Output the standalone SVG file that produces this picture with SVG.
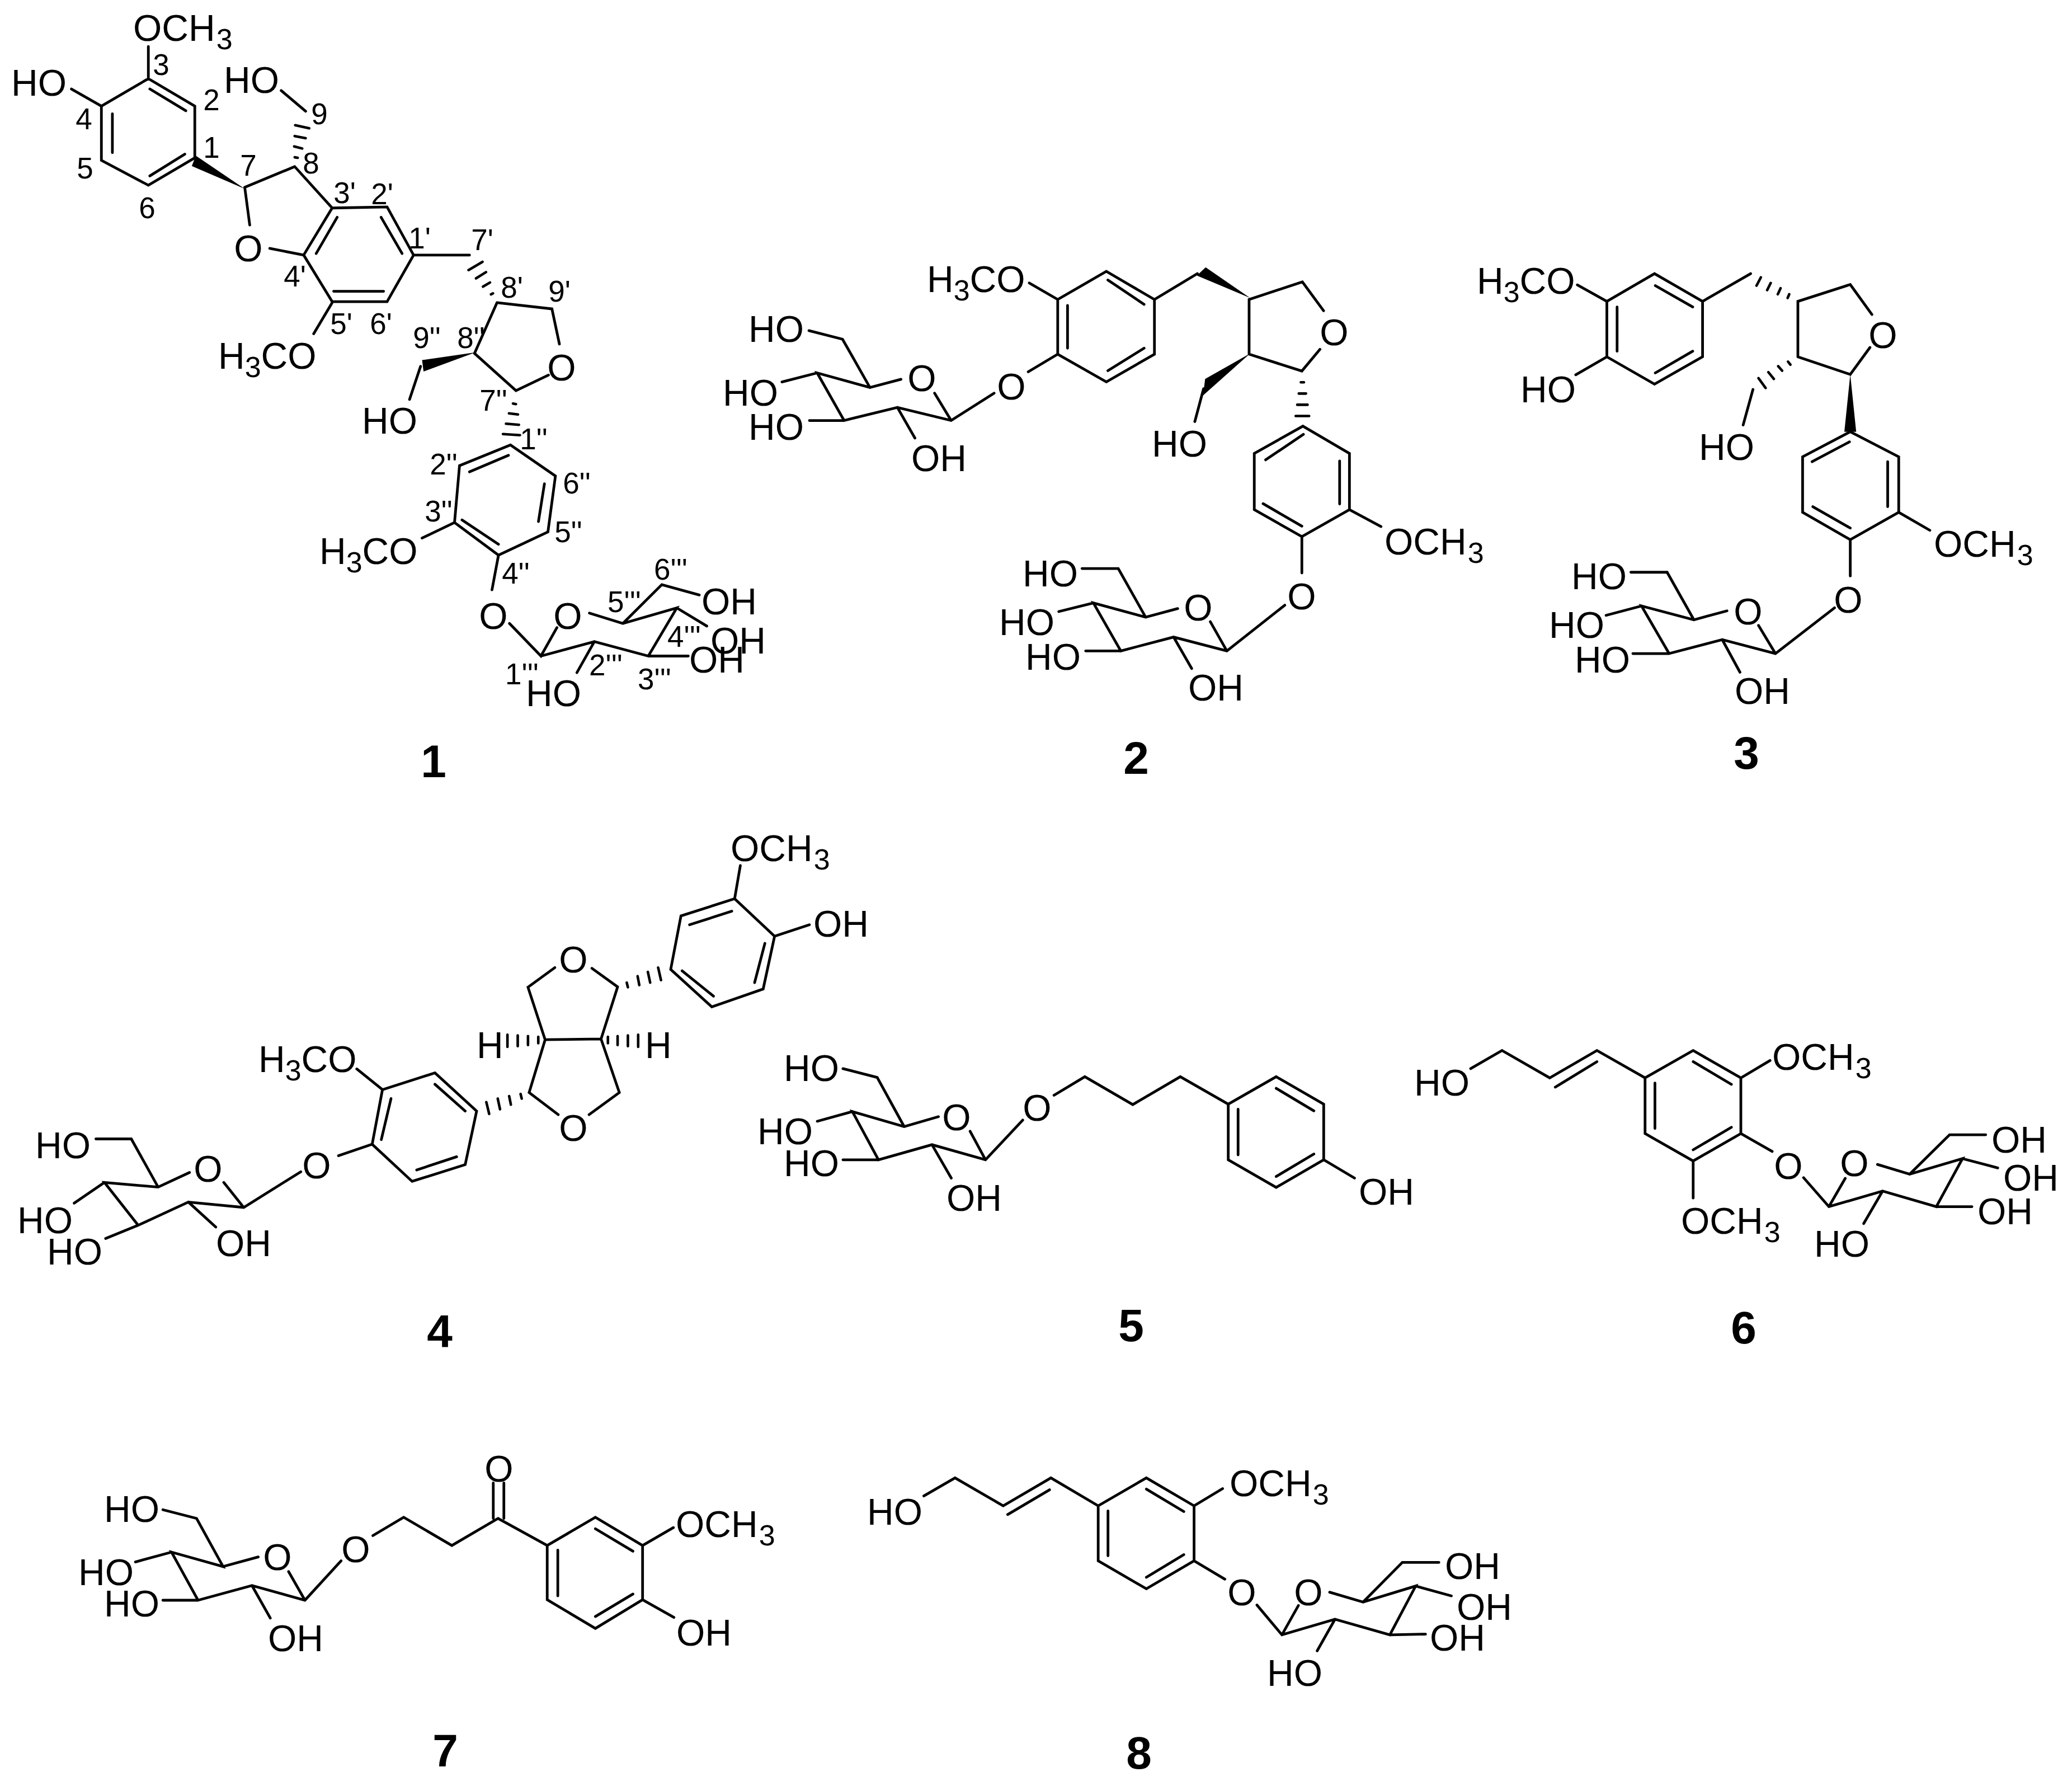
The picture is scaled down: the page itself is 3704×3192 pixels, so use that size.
<svg xmlns="http://www.w3.org/2000/svg" width="3704" height="3192" viewBox="0 0 3704 3192">
<style>
text{font-family:"Liberation Sans",Arial,sans-serif;fill:#000}
.a{font-size:66px}
.n{font-size:53px;text-anchor:middle}
.c{font-size:66px;text-anchor:middle}
.t{font-size:82px;font-weight:bold;text-anchor:middle}
.s{font-size:52px}
.b{fill:none;stroke:#000;stroke-width:4.8;stroke-linecap:round;stroke-linejoin:miter;vector-effect:non-scaling-stroke}
.h{fill:none;stroke:#000;stroke-width:4.6;stroke-linecap:round;vector-effect:non-scaling-stroke}
.w{fill:#000;stroke:none}
</style>
<rect width="3704" height="3192" fill="#fff"/>
<g id="compound-1">
<g id="connectors-1" transform="scale(.8929,.9247)">
<path class="b" d="M297 152L390 205L390 305L297 358L203 310L203 205Z M300 172L372 214 M370 298L300 340 M225 220L225 295 M297 152L297 90 M203 205L143 172 M490 362L590 322 M490 362L500 435 M540 480L608 493 M590 322L665 402 M612 215L563 175 M665 402L775 400L828 493L775 583L665 583L608 493Z M675 420L633 490 M763 420L805 490 M668 563L768 563 M665 585L628 645 M828 493L940 493 M995 585L1105 597L1120 665 M1098 725L1033 755L950 683L995 585 M842 708L820 772 M1022 860L1112 920L1097 1028L998 1073L910 1010L920 900Z M1018 880L940 912 M1090 935L1078 1008 M925 1005L998 1052 M910 1010L845 1040 M998 1073L985 1140 M1020 1205L1083 1268L1115 1213 M1083 1268L1190 1240L1298 1268L1355 1175L1247 1205L1180 1185 M1247 1205L1325 1130L1400 1150 M1355 1175L1415 1210 M1298 1268L1378 1268 M1190 1240L1155 1300"/>
<path class="h" d="M590 304L596 305 M589 283L605 287 M590 263L612 267 M591 242L619 248 M983 569L987 567 M967 554L981 546 M953 538L973 526 M938 522L966 506 M1027 780L1033 781 M1019 799L1037 801 M1013 819L1039 821 M1007 839L1041 841"/>
<polygon class="w" points="392,301 384,321 490,365"/>
<polygon class="w" points="952,681 845,696 848,718"/>
</g>
<text class="a" x="238" y="73">OCH<tspan class="s" dx="2" dy="15">3</tspan></text>
<text class="a" x="20" y="171">HO</text>
<text class="a" x="400" y="166">HO</text>
<text class="c" x="444" y="467">O</text>
<text class="a" x="390" y="659">H<tspan class="s" dy="15">3</tspan><tspan dy="-15">CO</tspan></text>
<text class="c" x="1004" y="680">O</text>
<text class="a" x="647" y="775">HO</text>
<text class="a" x="571" y="1008">H<tspan class="s" dy="15">3</tspan><tspan dy="-15">CO</tspan></text>
<text class="c" x="882" y="1124">O</text>
<text class="c" x="1015" y="1124">O</text>
<text class="a" x="1254" y="1098">OH</text>
<text class="a" x="1270" y="1168">OH</text>
<text class="a" x="1232" y="1202">OH</text>
<text class="a" x="940" y="1262">HO</text>
<text class="n" x="288" y="134">3</text><text class="n" x="378" y="197">2</text><text class="n" x="378" y="282">1</text><text class="n" x="150" y="231">4</text><text class="n" x="152" y="319">5</text><text class="n" x="263" y="390">6</text><text class="n" x="444" y="314">7</text><text class="n" x="556" y="310">8</text><text class="n" x="571" y="222">9</text>
<text class="n" x="616" y="363">3'</text><text class="n" x="683" y="365">2'</text><text class="n" x="750" y="444">1'</text><text class="n" x="862" y="447">7'</text><text class="n" x="527" y="512">4'</text><text class="n" x="610" y="597">5'</text><text class="n" x="681" y="597">6'</text><text class="n" x="915" y="532">8'</text><text class="n" x="1000" y="539">9'</text>
<text class="n" x="842" y="622">8''</text><text class="n" x="763" y="622">9''</text><text class="n" x="882" y="734">7''</text><text class="n" x="954" y="803">1''</text><text class="n" x="793" y="848">2''</text><text class="n" x="1031" y="882">6''</text><text class="n" x="784" y="932">3''</text><text class="n" x="1016" y="969">5''</text><text class="n" x="922" y="1043">4''</text>
<text class="n" x="1116" y="1094">5'''</text><text class="n" x="1199" y="1036">6'''</text><text class="n" x="1223" y="1156">4'''</text><text class="n" x="933" y="1223">1'''</text><text class="n" x="1083" y="1207">2'''</text><text class="n" x="1170" y="1232">3'''</text>
<text class="t" x="775" y="1389">1</text>
</g>
<g id="compound-2">
<g id="connectors-2" transform="translate(1250,400) scale(.9247,.6696)">
<path class="b" d="M693 202L787 127L880 202L880 348L787 422L693 348Z M712 218L712 332 M790 150L860 215 M860 332L790 392 M693 202L638 158 M693 348L636 395 M570 452L487 525L383 490L280 525L228 398L330 437L390 415 M455 452L487 525 M330 437L277 308L212 285 M228 398L160 422 M280 525L213 525 M383 490L417 572 M880 202L963 133 M1063 348L1063 202L1166 155L1207 232 M1200 335L1165 393L1063 348 M975 440L958 528 M1167 540L1257 613L1257 763L1165 835L1073 763L1073 613Z M1168 562L1095 630 M1238 633L1238 748 M1090 747L1165 807 M1257 763L1318 808 M1165 835L1165 932 M1132 1018L1020 1140L917 1103L815 1140L762 1012L863 1050L925 1027 M988 1062L1020 1140 M863 1050L810 920L740 920 M762 1012L695 1035 M815 1140L747 1140 M917 1103L952 1187"/>
<path class="h" d="M1163 423L1169 423 M1159 453L1173 453 M1156 483L1176 483 M1153 513L1179 513"/>
<polygon class="w" points="1065,198 979,116 962,138"/>
<polygon class="w" points="1065,346 978,414 974,458"/>
</g>
<text class="a" x="1657" y="522">H<tspan class="s" dy="15">3</tspan><tspan dy="-15">CO</tspan></text>
<text class="c" x="1808" y="714">O</text>
<text class="c" x="1648" y="699">O</text>
<text class="a" x="1338" y="611">HO</text><text class="a" x="1292" y="725">HO</text><text class="a" x="1338" y="786">HO</text><text class="a" x="1629" y="842">OH</text>
<text class="c" x="2385" y="617">O</text>
<text class="a" x="2059" y="816">HO</text>
<text class="a" x="2475" y="991">OCH<tspan class="s" dx="2" dy="15">3</tspan></text>
<text class="c" x="2327" y="1089">O</text>
<text class="c" x="2142" y="1109">O</text>
<text class="a" x="1828" y="1048">HO</text><text class="a" x="1786" y="1135">HO</text><text class="a" x="1833" y="1197">HO</text><text class="a" x="2124" y="1252">OH</text>
<text class="t" x="2031" y="1383">2</text>
</g>
<g id="compound-3">
<g id="connectors-3" transform="translate(2600,400) scale(.7041,.6696)">
<path class="b" d="M387 207L508 133L630 207L630 355L508 428L387 355Z M413 222L413 340 M510 165L605 222 M605 340L510 398 M387 207L312 163 M387 355L308 403 M630 207L752 133 M872 355L872 207L1005 162L1060 242 M1055 330L1005 402L872 355 M758 442L733 537 M1005 555L1128 622L1128 770L1005 843L884 770L884 622Z M1003 582L908 635 M1100 635L1100 755 M910 755L1005 812 M1128 770L1207 818 M1005 843L1005 940 M965 1025L815 1147L680 1110L545 1147L475 1020L608 1057L692 1033 M772 1072L815 1147 M608 1057L540 930L448 930 M475 1020L385 1045 M545 1147L453 1147 M680 1110L725 1197"/>
<path class="h" d="M850 188L846 198 M828 172L821 188 M803 158L794 177 M778 143L767 165 M847 368L853 376 M822 380L832 392 M797 396L811 414 M772 412L790 438"/>
<polygon class="w" points="1005,402 990,555 1020,555"/>
</g>
<text class="a" x="2640" y="525">H<tspan class="s" dy="15">3</tspan><tspan dy="-15">CO</tspan></text>
<text class="a" x="2718" y="719">HO</text><text class="a" x="3037" y="822">HO</text>
<text class="c" x="3366" y="622">O</text>
<text class="a" x="3457" y="995">OCH<tspan class="s" dx="2" dy="15">3</tspan></text>
<text class="c" x="3304" y="1095">O</text><text class="c" x="3125" y="1116">O</text>
<text class="a" x="2809" y="1053">HO</text><text class="a" x="2769" y="1140">HO</text><text class="a" x="2815" y="1202">HO</text><text class="a" x="3101" y="1258">OH</text>
<text class="t" x="3122" y="1374">3</text>
</g>
<g id="compound-4">
<g id="connectors-4" transform="translate(0,1450) scale(1.0204,.6378)">
<path class="b" d="M1287 245L1357 350L1337 498L1247 548L1175 443L1193 293Z M1282 280L1208 318 M1340 370L1322 480 M1250 518L1195 447 M1287 245L1297 152 M1357 350L1418 318 M1082 492L1037 440 M972 438L925 493L955 640L1053 638L1082 492 M955 640L927 788L978 850 M1032 850L1085 788L1053 638 M835 840L762 733L670 780L652 933L722 1037L815 990Z M815 840L762 765 M685 805L668 920 M730 1005L800 968 M670 780L625 722 M652 933L593 965 M527 1010L427 1110L330 1095L242 1160L183 1040L277 1053L332 1012 M392 1040L427 1110 M277 1053L230 918L168 918 M183 1040L130 1098 M242 1160L185 1197 M330 1095L378 1165"/>
<path class="h" d="M1098 480L1100 493 M1117 462L1120 487 M1135 450L1139 480 M1153 438L1158 473 M912 792L914 805 M892 798L895 822 M872 805L876 835 M852 815L857 848 M943 632L943 650 M925 630L925 655 M907 628L907 658 M889 626L889 660 M1065 632L1065 650 M1082 630L1082 655 M1100 628L1100 658 M1118 626L1118 660"/>
</g>
<text class="a" x="1306" y="1539">OCH<tspan class="s" dx="2" dy="15">3</tspan></text>
<text class="a" x="1454" y="1674">OH</text>
<text class="c" x="1025" y="1738">O</text><text class="c" x="1025" y="2039">O</text>
<text class="a" x="852" y="1891">H</text><text class="a" x="1153" y="1891">H</text>
<text class="a" x="462" y="1916">H<tspan class="s" dy="15">3</tspan><tspan dy="-15">CO</tspan></text>
<text class="c" x="566" y="2106">O</text><text class="c" x="372" y="2112">O</text>
<text class="a" x="63" y="2070">HO</text><text class="a" x="31" y="2204">HO</text><text class="a" x="84" y="2260">HO</text><text class="a" x="386" y="2245">OH</text>
<text class="t" x="786" y="2407">4</text>
</g>
<g id="compound-5">
<g id="connectors-5" transform="translate(1350,1800) scale(.7653,.4146)">
<path class="b" d="M625 487L538 658L413 593L288 658L227 450L348 515L428 472 M502 535L538 658 M348 515L285 303L205 265 M227 450L145 492 M288 658L205 658 M413 593L458 737 M698 380L770 300L882 420L993 300L1105 418 M1105 418L1217 300L1328 418L1328 658L1217 777L1105 658Z M1128 440L1128 637 M1217 350L1305 447 M1217 730L1305 633 M1328 658L1400 737"/>
</g>
<text class="a" x="1401" y="1932">HO</text><text class="a" x="1354" y="2045">HO</text><text class="a" x="1401" y="2102">HO</text><text class="a" x="1692" y="2164">OH</text>
<text class="c" x="1710" y="2020">O</text><text class="c" x="1854" y="2003">O</text>
<text class="a" x="2429" y="2153">OH</text>
<text class="t" x="2022" y="2397">5</text>
</g>
<g id="compound-6">
<g id="connectors-6" transform="translate(2500,1800) scale(.7679,.4146)">
<path class="b" d="M168 265L241 187L352 305L462 187L574 305 M365 345L462 235 M574 305L686 187L797 305L797 545L686 663L574 545Z M597 327L597 523 M686 235L775 333 M775 518L686 615 M797 305L865 230 M686 663L686 823 M797 545L870 622 M943 735L1002 860L1127 793L1252 860L1313 653L1190 720L1115 678 M1040 738L1002 860 M1190 720L1283 550L1367 550 M1313 653L1395 693 M1252 860L1335 860 M1127 793L1083 933"/>
</g>
<text class="a" x="2528" y="1958">HO</text>
<text class="a" x="3168" y="1912">OCH<tspan class="s" dx="2" dy="15">3</tspan></text>
<text class="a" x="3005" y="2205">OCH<tspan class="s" dx="2" dy="15">3</tspan></text>
<text class="c" x="3197" y="2107">O</text><text class="c" x="3315" y="2102">O</text>
<text class="a" x="3560" y="2060">OH</text><text class="a" x="3581" y="2128">OH</text><text class="a" x="3535" y="2188">OH</text><text class="a" x="3243" y="2246">HO</text>
<text class="t" x="3117" y="2401">6</text>
</g>
<g id="compound-7">
<g id="connectors-7" transform="translate(100,2550) scale(.861,.4095)">
<path class="b" d="M222 362L292 400L347 610L240 547L295 757L407 693L517 757L592 585 M347 610L420 568 M483 632L517 757 M240 547L165 590 M295 757L222 757 M407 693L445 835 M658 475L722 395L822 518L918 400L1020 518 M908 400L908 245 M930 400L930 245 M1020 518L1120 395L1218 518L1218 755L1120 880L1020 755Z M1042 538L1042 738 M1120 445L1198 543 M1198 730L1120 828 M1218 518L1282 440 M1218 755L1283 832"/>
</g>
<text class="a" x="186" y="2720">HO</text><text class="a" x="140" y="2833">HO</text><text class="a" x="186" y="2889">HO</text><text class="a" x="479" y="2951">OH</text>
<text class="c" x="496" y="2806">O</text><text class="c" x="636" y="2792">O</text><text class="c" x="892" y="2648">O</text>
<text class="a" x="1208" y="2747">OCH<tspan class="s" dx="2" dy="15">3</tspan></text>
<text class="a" x="1209" y="2941">OH</text>
<text class="t" x="796" y="3157">7</text>
</g>
<g id="compound-8">
<g id="connectors-8" transform="translate(1500,2550) scale(.7972,.4095)">
<path class="b" d="M190 302L260 223L368 345L475 223L581 345 M378 383L472 275 M581 345L689 223L796 345L796 585L689 707L581 585Z M603 367L603 563 M689 272L773 370 M773 558L689 657 M796 345L860 270 M796 585L865 665 M937 778L993 908L1112 840L1235 908L1293 695L1175 765L1100 722 M1030 780L993 908 M1175 765L1263 592L1345 592 M1293 695L1373 738 M1235 908L1315 905 M1112 840L1072 978"/>
</g>
<text class="a" x="1550" y="2725">HO</text>
<text class="a" x="2198" y="2674">OCH<tspan class="s" dx="2" dy="15">3</tspan></text>
<text class="c" x="2220" y="2869">O</text><text class="c" x="2339" y="2869">O</text>
<text class="a" x="2583" y="2822">OH</text><text class="a" x="2604" y="2895">OH</text><text class="a" x="2556" y="2950">OH</text><text class="a" x="2265" y="3013">HO</text>
<text class="t" x="2036" y="3161">8</text>
</g>
</svg>
